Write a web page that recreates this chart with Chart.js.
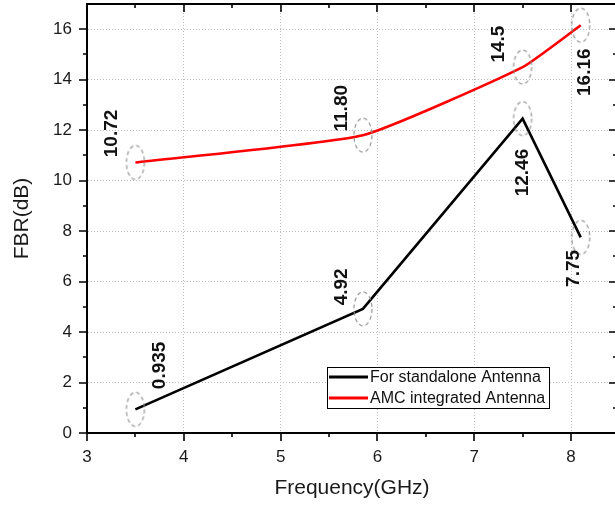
<!DOCTYPE html>
<html>
<head>
<meta charset="utf-8">
<script src="https://cdn.jsdelivr.net/npm/chart.js@4"></script>
<style>
  html, body { margin: 0; padding: 0; background: #fff; overflow: hidden; }
  #wrap { width: 615px; height: 506px; overflow: hidden; position: relative; }
  canvas { display: block; }
</style>
</head>
<body>
<div id="wrap"><canvas id="fbr" width="625" height="506"></canvas></div>
<script>
// Measured front-to-back ratio of the two antennas
const frequencies = [3.5, 5.85, 7.5, 8.1];                 // GHz
const standaloneText = ['0.935', '4.92', '12.46', '7.75']; // dB
const amcText = ['10.72', '11.80', '14.5', '16.16'];       // dB
const standaloneFBR = standaloneText.map(Number);
const amcFBR = amcText.map(Number);

const seriesNames = ['For standalone Antenna', 'AMC integrated Antenna'];
const xTickValues = [3, 3.5, 4, 4.5, 5, 5.5, 6, 6.5, 7, 7.5, 8];
const yTickValues = [0, 1, 2, 3, 4, 5, 6, 7, 8, 9, 10, 11, 12, 13, 14, 15, 16];
const xMajorStep = 1;
const yMajorStep = 2;

// Label placement (pixel offsets of each rotated value label from its point)
const standaloneLabelOffsets = [[23, -44], [-22, -22], [-1, 54], [-8, 31]];
const amcLabelOffsets = [[-25, -29], [-22, -27], [-25, -23], [3, 47]];

const FONT = "Arial, 'Liberation Sans', sans-serif";
const isMajor = (v, step) => Math.abs(v / step - Math.round(v / step)) < 1e-6;

// Dashed ellipse drawn around every data point
function ellipseMarker() {
  const cv = document.createElement('canvas');
  cv.width = 22; cv.height = 38;
  const g = cv.getContext('2d');
  g.strokeStyle = '#8c8c8c';
  g.lineWidth = 1.1;
  g.setLineDash([4, 3]);
  g.beginPath();
  g.ellipse(11, 19, 9, 17, 0, 0, Math.PI * 2);
  g.stroke();
  return cv;
}
const marker = ellipseMarker();

const toPoints = ys => frequencies.map((f, i) => ({ x: f, y: ys[i] }));

// Fixed axis sizes; no extra edge padding for the outer tick labels
const fixSize = (prop, size) => s => {
  s[prop] = size;
  s.paddingTop = 0; s.paddingBottom = 0; s.paddingLeft = 0; s.paddingRight = 0;
};

// Frame, tick marks, axis titles, value labels and the boxed legend
const decorations = {
  id: 'decorations',
  afterDraw(chart) {
    const { ctx, chartArea: a, scales: { x, y } } = chart;
    ctx.save();
    ctx.strokeStyle = '#000';
    ctx.lineWidth = 2;
    ctx.beginPath();
    ctx.moveTo(a.left - 1, a.top); ctx.lineTo(a.right, a.top);
    ctx.moveTo(a.right, a.top); ctx.lineTo(a.right, a.bottom);
    ctx.stroke();

    ctx.lineWidth = 1.6;
    ctx.beginPath();
    xTickValues.forEach(v => {
      const px = Math.round(x.getPixelForValue(v));
      const len = isMajor(v, xMajorStep) ? 8 : 4;
      ctx.moveTo(px, a.bottom); ctx.lineTo(px, a.bottom + len);
      ctx.moveTo(px, a.top); ctx.lineTo(px, a.top + len);
    });
    yTickValues.forEach(v => {
      const py = Math.round(y.getPixelForValue(v));
      const len = isMajor(v, yMajorStep) ? 8 : 4;
      ctx.moveTo(a.left, py); ctx.lineTo(a.left - len, py);
      ctx.moveTo(a.right, py); ctx.lineTo(a.right - len, py);
    });
    ctx.stroke();

    // axis titles
    ctx.fillStyle = '#1a1a1a';
    ctx.font = `21px ${FONT}`;
    ctx.textAlign = 'center';
    ctx.textBaseline = 'middle';
    ctx.fillText('Frequency(GHz)', (a.left + a.right) / 2, 488);
    ctx.save();
    ctx.translate(22, (a.top + a.bottom) / 2);
    ctx.rotate(-Math.PI / 2);
    ctx.fillText('FBR(dB)', 0, 0);
    ctx.restore();

    // rotated value labels
    ctx.font = `bold 19px ${FONT}`;
    ctx.fillStyle = '#111';
    const drawLabels = (texts, values, offsets) => {
      texts.forEach((t, i) => {
        const px = x.getPixelForValue(frequencies[i]) + offsets[i][0];
        const py = y.getPixelForValue(values[i]) + offsets[i][1];
        ctx.save();
        ctx.translate(px, py);
        ctx.rotate(-Math.PI / 2);
        ctx.fillText(t, 0, 1);
        ctx.restore();
      });
    };
    drawLabels(standaloneText, standaloneFBR, standaloneLabelOffsets);
    drawLabels(amcText, amcFBR, amcLabelOffsets);

    // legend box
    const lx = 327, ly = 367, lw = 222, lh = 41;
    ctx.fillStyle = '#fff';
    ctx.fillRect(lx, ly, lw, lh);
    ctx.lineWidth = 1;
    ctx.strokeStyle = '#000';
    ctx.strokeRect(lx + 0.5, ly + 0.5, lw, lh);
    ctx.font = `16px ${FONT}`;
    ctx.textAlign = 'left';
    chart.data.datasets.forEach((ds, i) => {
      const ry = 377 + i * 21;
      ctx.strokeStyle = ds.borderColor;
      ctx.lineWidth = 3;
      ctx.beginPath();
      ctx.moveTo(329, ry); ctx.lineTo(368, ry);
      ctx.stroke();
      ctx.fillStyle = '#111';
      ctx.fillText(ds.label, 370, ry + 1);
    });
    ctx.restore();
  }
};

new Chart(document.getElementById('fbr'), {
  type: 'line',
  data: {
    datasets: [
      {
        label: seriesNames[0],
        data: toPoints(standaloneFBR),
        borderColor: '#000000',
        borderWidth: 2.6,
        tension: 0,
        pointStyle: marker,
        pointRadius: 10
      },
      {
        label: seriesNames[1],
        data: toPoints(amcFBR),
        borderColor: '#ff0000',
        borderWidth: 2.6,
        tension: 0.15,
        pointStyle: marker,
        pointRadius: 10
      }
    ]
  },
  options: {
    responsive: false,
    animation: false,
    devicePixelRatio: 1,
    clip: false,
    layout: { autoPadding: false, padding: { top: 4, right: 8, left: 0, bottom: 0 } },
    plugins: { legend: { display: false }, tooltip: { enabled: false } },
    scales: {
      x: {
        type: 'linear',
        min: 3,
        max: 8.475,
        afterBuildTicks: s => { s.ticks = xTickValues.map(v => ({ value: v })); },
        afterFit: fixSize('height', 73),
        grid: {
          drawTicks: false,
          lineWidth: 1,
          color: c => (c.tick && isMajor(c.tick.value, xMajorStep)) ? '#bdbdbd' : 'rgba(0,0,0,0)'
        },
        border: { display: true, color: '#000', width: 2, dash: [1, 2] },
        ticks: {
          autoSkip: false,
          maxRotation: 0,
          padding: 14,
          color: '#1a1a1a',
          font: { family: FONT, size: 17 },
          callback: v => isMajor(v, xMajorStep) ? String(v) : ''
        }
      },
      y: {
        min: 0,
        max: 17,
        afterBuildTicks: s => { s.ticks = yTickValues.map(v => ({ value: v })); },
        afterFit: fixSize('width', 87),
        grid: {
          drawTicks: false,
          lineWidth: 1,
          color: c => (c.tick && isMajor(c.tick.value, yMajorStep)) ? '#bdbdbd' : 'rgba(0,0,0,0)'
        },
        border: { display: true, color: '#000', width: 2, dash: [1, 2] },
        ticks: {
          autoSkip: false,
          padding: 15,
          color: '#1a1a1a',
          font: { family: FONT, size: 17 },
          callback: v => isMajor(v, yMajorStep) ? String(v) : ''
        }
      }
    }
  },
  plugins: [decorations]
});
</script>
</body>
</html>
